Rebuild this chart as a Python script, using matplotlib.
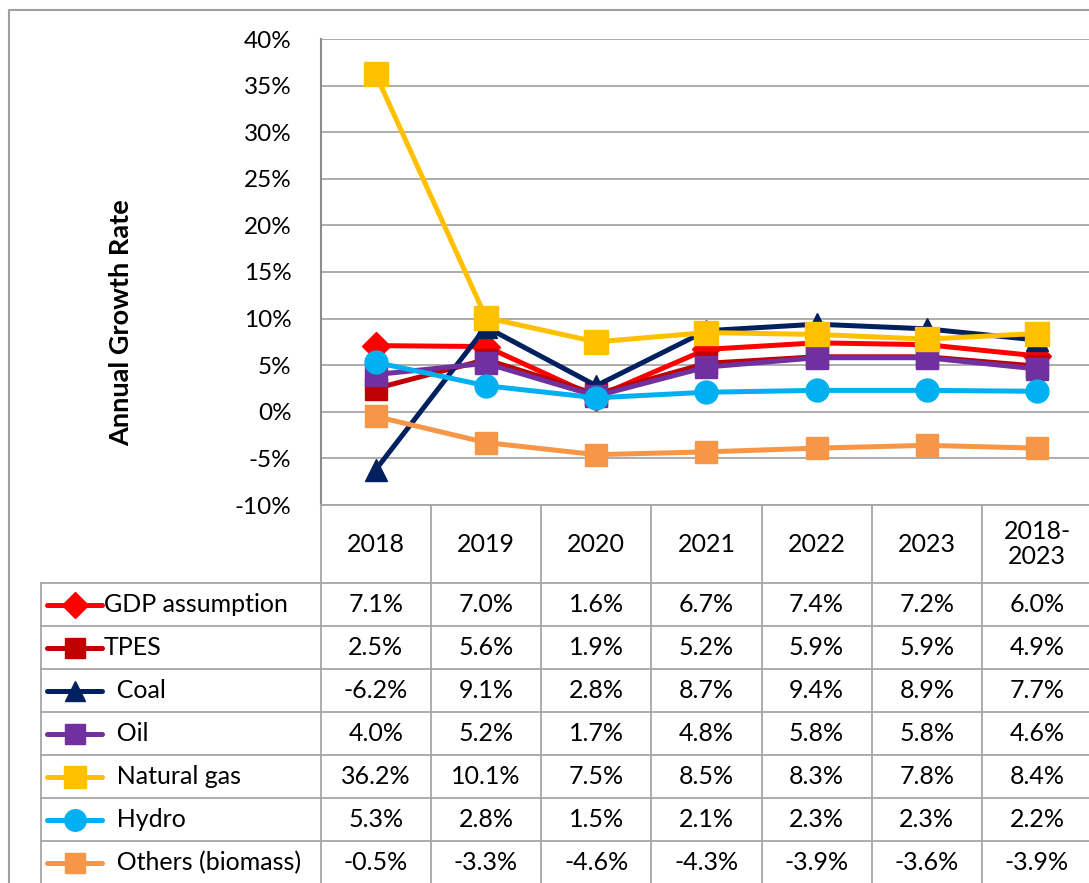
"""Annual growth rate line chart with Excel-style data table."""
import numpy as np
import matplotlib
matplotlib.use("Agg")
import matplotlib.pyplot as plt

plt.rcParams["font.family"] = ["Lato", "DejaVu Sans"]

years = ["2018", "2019", "2020", "2021", "2022", "2023", "2018-\n2023"]
series = ["GDP assumption", "TPES", "  Coal", "  Oil", "  Natural gas", "  Hydro", "  Others (biomass)"]
gdp = [7.1, 7.0, 1.6, 6.7, 7.4, 7.2, 6.0]
tpes = [2.5, 5.6, 1.9, 5.2, 5.9, 5.9, 4.9]
coal = [-6.2, 9.1, 2.8, 8.7, 9.4, 8.9, 7.7]
oil = [4.0, 5.2, 1.7, 4.8, 5.8, 5.8, 4.6]
gas = [36.2, 10.1, 7.5, 8.5, 8.3, 7.8, 8.4]
hydro = [5.3, 2.8, 1.5, 2.1, 2.3, 2.3, 2.2]
others = [-0.5, -3.3, -4.6, -4.3, -3.9, -3.6, -3.9]

colors = ["#FF0000", "#C00000", "#002060", "#7030A0", "#FFC000", "#00B0F0", "#F79646"]
markers = ["D", "s", "^", "s", "s", "o", "s"]
msizes = [14, 16, 16, 16, 17, 16.5, 16]
data = [gdp, tpes, coal, oil, gas, hydro, others]

W, H = 1089, 883
x0, cw = 320.7, 110.2          # plot left edge and category width (px)
top, bot = 39, 505             # plot top / bottom (px)
hdr_bot, row_h = 583, 43       # table header bottom and row height (px)
tab_left = 41
grid_c = "#A6A6A6"
fs = 16.5
fs_tab = 18
lw = 3.6

fig = plt.figure(figsize=(W / 100, H / 100), dpi=100)
ax = fig.add_axes([x0 / W, 1 - bot / H, 7 * cw / W, (bot - top) / H])

x = np.arange(len(years))
for vals, c, m, ms in zip(data, colors, markers, msizes):
    ax.plot(x, np.array(vals) / 100, color=c, lw=lw, marker=m, ms=ms,
            mec=c, mfc=c, solid_joinstyle="round", zorder=3)

ax.set_xlim(-0.5, 6.5)
ax.set_ylim(-0.10, 0.40)
yt = np.arange(-0.10, 0.401, 0.05)
ax.set_yticks(yt)
ax.set_yticklabels([f"{v * 100:.0f}%" for v in yt], fontsize=fs_tab - 0.5)
ax.set_xticks([])
ax.tick_params(axis="y", length=0, pad=21)
ax.grid(axis="y", color=grid_c, lw=1.3)
for s in ["top", "right", "bottom"]:
    ax.spines[s].set_visible(False)
ax.spines["left"].set_color("#8C8C8C")
ax.spines["left"].set_linewidth(1.5)
ax.set_axisbelow(True)
ax.set_ylabel("Annual Growth Rate", fontsize=19.5, fontweight="bold", labelpad=0)
ax.yaxis.set_label_coords((133 - x0) / (7 * cw), 1 - (323 - top) / (bot - top))

# overlay in pixel coordinates for the data table and outer border
tab = fig.add_axes([0, 0, 1, 1])
tab.set_xlim(0, W)
tab.set_ylim(H, 0)
tab.axis("off")

# outer chart border
tab.plot([8.5, 8.5, W], [H, 10, 10], color="#A0A0A0", lw=1.5, clip_on=False)

right = x0 + 7 * cw
n = len(series)
# horizontal table lines
tab.plot([x0, right], [bot, bot], color=grid_c, lw=1.3, clip_on=False)
for i in range(n):
    y = hdr_bot + i * row_h
    tab.plot([tab_left, right], [y, y], color=grid_c, lw=1.3, clip_on=False)
# vertical table lines
tab.plot([tab_left, tab_left], [hdr_bot, H], color=grid_c, lw=1.3, clip_on=False)
for j in range(len(years) + 1):
    xv = x0 + j * cw
    tab.plot([xv, xv], [bot, H], color=grid_c, lw=1.3, clip_on=False)

# header
for j, yr in enumerate(years):
    tab.text(x0 + (j + 0.5) * cw, (bot + hdr_bot) / 2, yr, ha="center", va="center",
             fontsize=fs_tab, linespacing=1.15)

# rows
for i, (name, vals, c, m, ms) in enumerate(zip(series, data, colors, markers, msizes)):
    yc = hdr_bot + (i + 0.5) * row_h
    tab.plot([47, 102], [yc, yc], color=c, lw=lw, solid_capstyle="round", clip_on=False)
    tab.plot([74.5], [yc], marker=m, ms=ms - 1, color=c, clip_on=False)
    tab.text(104, yc, name, ha="left", va="center", fontsize=fs_tab)
    for j, v in enumerate(vals):
        tab.text(x0 + (j + 0.5) * cw, yc, f"{v:.1f}%", ha="center", va="center",
                 fontsize=fs_tab)

fig.savefig("out.png", dpi=100)
